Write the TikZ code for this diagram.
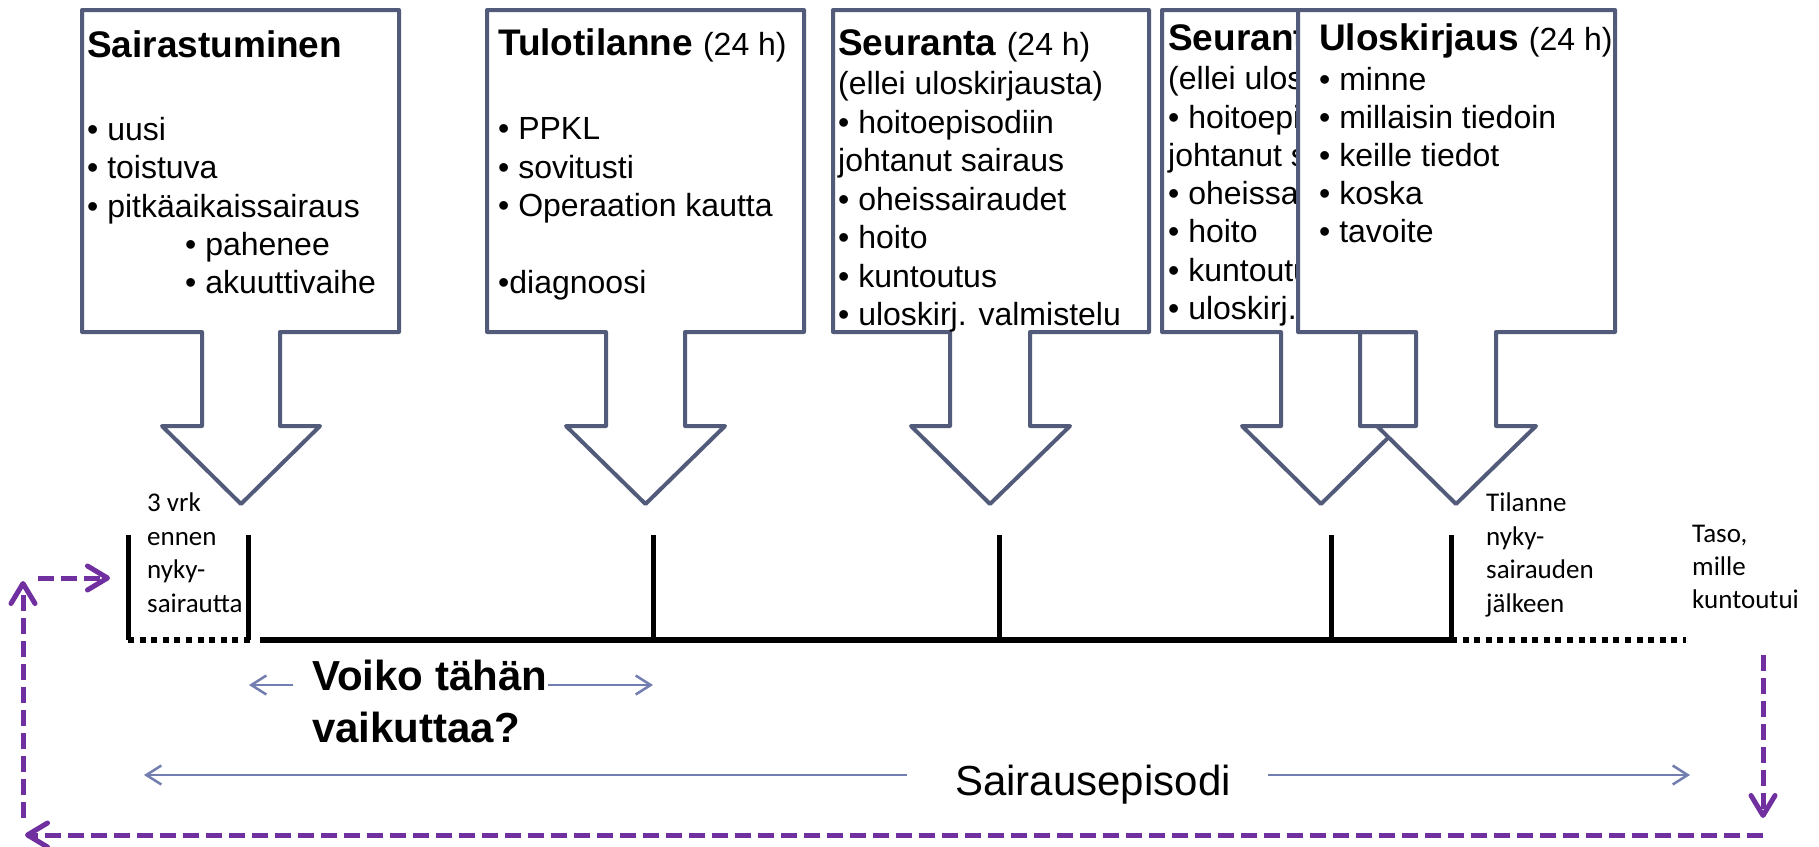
\documentclass[tikz,border=0pt]{standalone}
\usepackage{fontspec}
\setmainfont{Liberation Sans}
\newfontfamily\calfont{Carlito}
\usetikzlibrary{arrows.meta}
\definecolor{slate}{RGB}{83,91,122}
\definecolor{thinblue}{RGB}{114,126,176}
\definecolor{purp}{RGB}{112,48,160}
\tikzset{
 callout/.style={draw=slate, line width=4pt, line join=round, fill=white},
 body/.style={anchor=base west, inner sep=0pt, font=\fontsize{32}{38}\selectfont},
 ttl/.style={anchor=base west, inner sep=0pt, font=\fontsize{37}{44}\selectfont\bfseries},
 small/.style={anchor=base west, inner sep=0pt, font=\calfont\fontsize{27}{32}\selectfont},
 tickline/.style={line width=5pt},
 baseline/.style={line width=6pt},
 dotline/.style={line width=6pt, dash pattern=on 6pt off 5.6pt},
 thinarr/.style={draw=thinblue, line width=2.5pt, -{Straight Barb[length=15pt,width=19pt]}},
 purarr/.style={draw=purp, line width=5pt, dash pattern=on 16pt off 7pt, -{Straight Barb[length=20pt,width=24pt,line join=round,line cap=round]}},
}
\newcommand\drawcallout[7]{\draw[callout] (#1,10) -- (#2,10) -- (#2,332) -- (#4,332) -- (#4,426) -- (#6,426) -- (#7,504) -- (#5,426) -- (#3,426) -- (#3,332) -- (#1,332) -- cycle;}
\newcommand\rg{\mdseries\fontsize{32}{38}\selectfont}
\begin{document}
\begin{tikzpicture}[x=1pt,y=-1pt]
\useasboundingbox (0,0) rectangle (1819,846);
\fill[white] (0,0) rectangle (1819,846);

% Callout 1
\drawcallout{82}{399}{202}{280}{162}{320}{241}
\node[ttl] (c1t) at (87,57) {Sairastuminen};
\node[body] (c1a) at (87,140) {• uusi};
\node[body] (c1b) at (87,178) {• toistuva};
\node[body] (c1c) at (87,217) {• pitkäaikaissairaus};
\node[body] (c1d) at (185,255) {• pahenee};
\node[body] (c1e) at (185,293) {• akuuttivaihe};

% Callout 2
\drawcallout{487}{804}{606}{685}{566}{725}{645.5}
\node[ttl] (c2t) at (498,55) {Tulotilanne {\rg(24 h)}};
\node[body] (c2a) at (498,139) {• PPKL};
\node[body] (c2b) at (498,178) {• sovitusti};
\node[body] (c2c) at (498,216) {• Operaation kautta};
\node[body] (c2d) at (498,293) {•diagnoosi};

% Callout 3
\drawcallout{833}{1149}{950}{1030}{911}{1070}{990}
\node[ttl] (c3t) at (838,55) {Seuranta {\rg(24 h)}};
\node[body] (c3a) at (838,94) {(ellei uloskirjausta)};
\node[body] (c3b) at (838,133) {• hoitoepisodiin};
\node[body] (c3c) at (838,171) {johtanut sairaus};
\node[body] (c3d) at (838,210) {• oheissairaudet};
\node[body] (c3e) at (838,248) {• hoito};
\node[body] (c3f) at (838,287) {• kuntoutus};
\node[body] (c3g) at (838,325) {• uloskirj. valmistelu};

% Callout 4 (partly hidden behind callout 5)
\drawcallout{1162}{1477}{1281}{1360}{1242}{1400}{1321}
\begin{scope}
\clip (1160,12) rectangle (1298,330);
\node[ttl] (c4t) at (1168,50) {Seuranta {\rg(24 h)}};
\node[body] (c4a) at (1168,89) {(ellei uloskirjausta)};
\node[body] (c4b) at (1168,128) {• hoitoepisodiin};
\node[body] (c4c) at (1168,166) {johtanut sairaus};
\node[body] (c4d) at (1168,204) {• oheissairaudet};
\node[body] (c4e) at (1168,242) {• hoito};
\node[body] (c4f) at (1168,281) {• kuntoutus};
\node[body] (c4g) at (1168,319) {• uloskirj. valmistelu};
\end{scope}

% Callout 5
\drawcallout{1298}{1615}{1416}{1496}{1377}{1536}{1456}
\node[ttl] (c5t) at (1319,50) {Uloskirjaus {\rg(24 h)}};
\node[body] (c5a) at (1319,90) {• minne};
\node[body] (c5b) at (1319,128) {• millaisin tiedoin};
\node[body] (c5c) at (1319,166) {• keille tiedot};
\node[body] (c5d) at (1319,204) {• koska};
\node[body] (c5e) at (1319,242) {• tavoite};

% Timeline
\coordinate (t1) at (128,640);
\coordinate (t2) at (248,640);
\coordinate (t3) at (653,640);
\coordinate (t4) at (999,640);
\coordinate (t5) at (1331,640);
\coordinate (t6) at (1451,640);
\coordinate (sstart) at (260,640);
\coordinate (dend) at (1686,640);
\draw[dotline] (t1) -- (254,640);
\draw[baseline] (sstart) -- (t6);
\draw[dotline] (t6) -- (dend);
\foreach \t in {t1,t2,t3,t4,t5,t6} \draw[tickline] (\t) -- ++(0,-105);

% Timeline labels
\node[small] (l1a) at (147,511) {3 vrk};
\node[small] (l1b) at (147,545) {ennen};
\node[small] (l1c) at (147,578) {nyky-};
\node[small] (l1d) at (147,612) {sairautta};
\node[small] (l2a) at (1486,511) {Tilanne};
\node[small] (l2b) at (1486,545) {nyky-};
\node[small] (l2c) at (1486,578) {sairauden};
\node[small] (l2d) at (1486,612) {jälkeen};
\node[small] (l3a) at (1692,542) {Taso,};
\node[small] (l3b) at (1692,575) {mille};
\node[small] (l3c) at (1692,608) {kuntoutui};

% Voiko tähän vaikuttaa?
\node[anchor=base west, inner sep=0pt, font=\fontsize{42}{52}\selectfont\bfseries] (v1) at (312,690) {Voiko tähän};
\node[anchor=base west, inner sep=0pt, font=\fontsize{42}{52}\selectfont\bfseries] (v2) at (312,742) {vaikuttaa?};
\coordinate (va) at (293,685);
\coordinate (vat) at (249,685);
\coordinate (vb) at (548,685);
\coordinate (vbt) at (653,685);
\draw[thinarr] (va) -- (vat);
\draw[thinarr] (vb) -- (vbt);

% Sairausepisodi
\node[anchor=base, inner sep=0pt, font=\fontsize{42}{50}\selectfont] (se) at (1093,795) {Sairausepisodi};
\coordinate (sa) at (907,775);
\coordinate (sat) at (144,775);
\coordinate (sb) at (1268,775);
\coordinate (sbt) at (1690,775);
\draw[thinarr] (sa) -- (sat);
\draw[thinarr] (sb) -- (sbt);

% Purple loop
\coordinate (p1) at (1763,655);
\coordinate (p2) at (1763,818);
\coordinate (p3) at (1763,835);
\coordinate (p4) at (25,835);
\coordinate (p5) at (23,818);
\coordinate (p6) at (23,581);
\coordinate (p7) at (38,578);
\coordinate (p8) at (110,578);
\draw[purarr] (p1) -- (p2);
\draw[purarr] (p3) -- (p4);
\draw[purarr] (p5) -- (p6);
\draw[purarr] (p7) -- (p8);
\end{tikzpicture}
\end{document}
